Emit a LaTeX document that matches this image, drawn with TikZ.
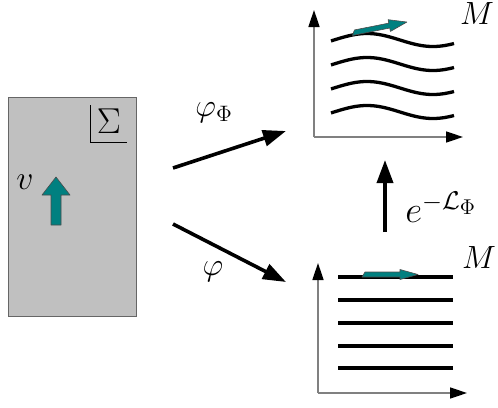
\documentclass[tikz,border=0pt]{standalone}
\usepackage{amsmath}
\usetikzlibrary{arrows.meta,positioning}

\definecolor{flowteal}{RGB}{0,128,128}
\definecolor{boxgray}{RGB}{192,192,192}

\tikzset{
	axis/.style={draw=black!50, line width=1.6pt, -{Triangle[length=17pt,width=11pt,color=black]}},
	leaf/.style={line width=3.3pt},
	mapto/.style={line width=3.6pt, -{Triangle[length=23pt,width=16pt]}},
	lbl/.style={font=\huge, scale=1.55, inner sep=0pt},
	flowvec/.style={fill=flowteal, draw=black!70, line width=0.6pt, line join=round}
}

\begin{document}
\begin{tikzpicture}[x=1pt, y=-1pt]
	\useasboundingbox (0,0) rectangle (498,407);
	% the surface Sigma
	\node[draw=black!60, fill=boxgray, line width=0.8pt, minimum width=128pt, minimum height=219pt, inner sep=0pt, anchor=north west] (sigmabox) at (8,97) {};
	\node[lbl, scale=1.12] (sigma) at (109,121) {$\Sigma$};
	\draw[line width=0.8pt] (90,105) |- (127,142);
	\node[lbl, scale=1.05] (v) at (25,182) {$v$};
	\draw[flowvec] (51,225) -- (51,195) -- (42,195) -- (56,177) -- (70,195) -- (61,195) -- (61,225) -- cycle;

	% upper M, deformed leaves
	\coordinate (topO) at (314,137);
	\coordinate (topY) at (314,10);
	\coordinate (topX) at (463,137);
	\draw[axis] (topO) -- (topY);
	\draw[axis] (topO) -- (topX);
	\foreach \y in {40,64,88,112}
		\draw[leaf] plot[domain=331:454, samples=50, smooth] (\x, {\y - 6.5*sin((\x-334)*2.7273)});
	\begin{scope}[shift={(352,33)}, rotate=11.3]
		\draw[flowvec] (0,2.5) -- (38,2.5) -- (38,6) -- (56,0) -- (38,-6) -- (38,-2.5) -- (3,-2.5) -- cycle;
	\end{scope}
	\node[lbl] (Mtop) at (477,14) {$M$};

	% lower M, flat leaves
	\coordinate (botO) at (318,393);
	\coordinate (botY) at (318,263);
	\coordinate (botX) at (467,393);
	\draw[axis] (botO) -- (botY);
	\draw[axis] (botO) -- (botX);
	\foreach \y in {277,300,323,346,368}
		\draw[leaf] (338,\y) -- (453,\y);
	\draw[flowvec] (362,277) -- (400,277) -- (400,279.5) -- (418,274.5) -- (400,269.5) -- (400,272) -- (365,272) -- cycle;
	\node[lbl] (Mbot) at (479,258) {$M$};

	% the maps
	\coordinate (srcUp) at (173,168);
	\coordinate (dstUp) at (286,131);
	\coordinate (srcDown) at (173,224);
	\coordinate (dstDown) at (286,282);
	\coordinate (flowFrom) at (385,232);
	\coordinate (flowTo) at (385,160);
	\draw[mapto] (srcUp) -- (dstUp);
	\draw[mapto] (srcDown) -- (dstDown);
	\draw[mapto] (flowFrom) -- (flowTo);
	\node[lbl] (phiPhi) at (214,113) {$\varphi_\Phi$};
	\node[lbl] (phi) at (213,272) {$\varphi$};
	\node[lbl, scale=1.15] (flowlbl) at (441,207) {$e^{-\mathcal{L}_\Phi}$};
\end{tikzpicture}
\end{document}
